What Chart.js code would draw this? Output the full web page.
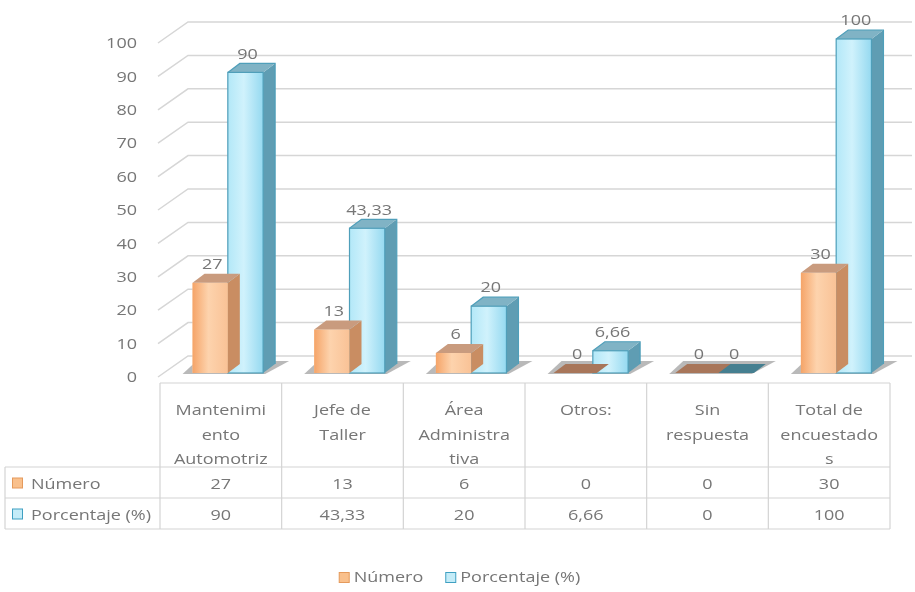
<!DOCTYPE html>
<html>
<head>
<meta charset="utf-8">
<script src="https://cdn.jsdelivr.net/npm/chart.js@4/dist/chart.umd.min.js"></script>
<style>
  html, body { margin: 0; padding: 0; background: #fff; }
  canvas { display: block; }
</style>
</head>
<body>
<canvas id="grafico" width="915" height="592"></canvas>
<script>
// datos
const categorias = [
    ['Mantenimi', 'ento', 'Automotriz'],
    ['Jefe de', 'Taller'],
    ['Área', 'Administra', 'tiva'],
    ['Otros:'],
    ['Sin', 'respuesta'],
    ['Total de', 'encuestado', 's']
];
const numero = [27, 13, 6, 0, 0, 30];
const porcentaje = [90, 43.33, 20, 6.66, 0, 100];
const ejeY = { min: 0, max: 100, paso: 10 };

const FUENTE = '15px "Open Sans", "DejaVu Sans", sans-serif';
const ESTIRA = 1.2;           // el texto del original esta ensanchado
const GRIS = '#767676';
const DX = 12, DY = 9;        // profundidad de las barras
const PX = 30, PY = 21;       // profundidad de las paredes
const DESPLAZ = 7;            // la tabla esta corrida respecto a las barras

const estilos = [
    { frente: ['#f5a468', '#fdd3ad', '#f9c296'], tapa: '#c99b7e', lado: '#c98d62', cero: '#a8765a', borde: null,
      muestra: '#f9c08c', muestraBorde: '#e59a5c' },
    { frente: ['#b3e8f8', '#d0f2fc', '#95d9f0'], tapa: '#80b3c5', lado: '#5f9db3', cero: '#457f90', borde: '#4f9fba',
      muestra: '#c4ecf8', muestraBorde: '#3fa0c2' }
];

function fmt(v) { return String(v).replace('.', ','); }

// texto ensanchado horizontalmente
function texto(ctx, s, x, y) {
    ctx.save();
    ctx.translate(x, y);
    ctx.scale(ESTIRA, 1);
    ctx.fillText(s, 0, 0);
    ctx.restore();
}

const plugin3d = {
    id: 'plugin3d',
    beforeDatasetsDraw(chart) {
        const ctx = chart.ctx;
        const y = chart.scales.y;
        const area = chart.chartArea;
        const izq = area.left - DESPLAZ - 2;
        ctx.save();
        ctx.strokeStyle = '#d6d6d6';
        ctx.lineWidth = 1.5;
        y.ticks.forEach(t => {
            const py = y.getPixelForValue(t.value);
            ctx.beginPath();
            ctx.moveTo(izq, py + 4);
            ctx.lineTo(izq + PX, py + 4 - PY);
            ctx.lineTo(chart.width - 3, py + 4 - PY);
            ctx.stroke();
        });
        // etiquetas del eje
        ctx.fillStyle = GRIS;
        ctx.font = FUENTE;
        ctx.textAlign = 'right';
        ctx.textBaseline = 'middle';
        y.ticks.forEach(t => {
            const py = y.getPixelForValue(t.value);
            texto(ctx, String(t.value), 137, py + 5);
        });
        // sombras en el piso
        const m0 = chart.getDatasetMeta(0).data;
        const m1 = chart.getDatasetMeta(1).data;
        m0.forEach((b0, i) => {
            const b1 = m1[i];
            const L = b0.x - b0.width / 2;
            const R = b1.x + b1.width / 2;
            const base = b0.base;
            ctx.fillStyle = 'rgba(100,100,100,0.45)';
            ctx.beginPath();
            ctx.moveTo(L - 10, base + 1);
            ctx.lineTo(R + 2, base + 1);
            ctx.lineTo(R + 26, base - 12);
            ctx.lineTo(L + 4, base - 12);
            ctx.closePath();
            ctx.fill();
        });
        ctx.restore();
    },
    afterDatasetDraw(chart, args) {
        const ctx = chart.ctx;
        const est = estilos[args.index];
        const meta = chart.getDatasetMeta(args.index);
        ctx.save();
        meta.data.forEach(b => {
            const l = b.x - b.width / 2, r = b.x + b.width / 2;
            const top = b.y, base = b.base;
            if (base - top < 1) {
                ctx.fillStyle = est.cero;
                ctx.beginPath();
                ctx.moveTo(l - 4, base);
                ctx.lineTo(r + 4, base);
                ctx.lineTo(r + DX + 4, base - DY);
                ctx.lineTo(l + DX - 4, base - DY);
                ctx.closePath();
                ctx.fill();
                return;
            }
            const g = ctx.createLinearGradient(l, 0, r, 0);
            g.addColorStop(0, est.frente[0]);
            g.addColorStop(0.45, est.frente[1]);
            g.addColorStop(1, est.frente[2]);
            ctx.fillStyle = g;
            ctx.fillRect(l, top, r - l, base - top);
            // lado
            ctx.fillStyle = est.lado;
            ctx.beginPath();
            ctx.moveTo(r, top);
            ctx.lineTo(r + DX, top - DY);
            ctx.lineTo(r + DX, base - DY);
            ctx.lineTo(r, base);
            ctx.closePath();
            ctx.fill();
            // tapa
            ctx.fillStyle = est.tapa;
            ctx.beginPath();
            ctx.moveTo(l, top);
            ctx.lineTo(r, top);
            ctx.lineTo(r + DX, top - DY);
            ctx.lineTo(l + DX, top - DY);
            ctx.closePath();
            ctx.fill();
            if (est.borde) {
                ctx.strokeStyle = est.borde;
                ctx.lineWidth = 1.2;
                ctx.strokeRect(l, top, r - l, base - top);
                ctx.beginPath();
                ctx.moveTo(l, top);
                ctx.lineTo(l + DX, top - DY);
                ctx.lineTo(r + DX, top - DY);
                ctx.lineTo(r + DX, base - DY);
                ctx.stroke();
            }
        });
        ctx.restore();
    },
    afterDatasetsDraw(chart) {
        const ctx = chart.ctx;
        ctx.save();
        ctx.font = FUENTE;
        ctx.fillStyle = GRIS;
        ctx.textAlign = 'center';
        ctx.textBaseline = 'middle';
        chart.data.datasets.forEach((ds, di) => {
            chart.getDatasetMeta(di).data.forEach((b, i) => {
                texto(ctx, fmt(ds.data[i]), b.x + 2, b.y - DY - 9);
            });
        });

        // tabla de datos
        const x = chart.scales.x;
        const n = chart.data.labels.length;
        const colW = chart.chartArea.width / n;
        const bordes = [];
        for (let i = 0; i <= n; i++) {
            bordes.push(x.getPixelForValue(0) - colW / 2 - DESPLAZ + i * colW);
        }
        const tTop = 383, f1 = 467, f2 = 498, f3 = 529, tIzq = 5;
        const der = bordes[n];
        ctx.strokeStyle = '#d4d4d4';
        ctx.lineWidth = 1.2;
        ctx.beginPath();
        ctx.moveTo(bordes[0], tTop); ctx.lineTo(der, tTop);
        [f1, f2, f3].forEach(fy => { ctx.moveTo(tIzq, fy); ctx.lineTo(der, fy); });
        ctx.moveTo(tIzq, f1); ctx.lineTo(tIzq, f3);
        bordes.forEach(bx => { ctx.moveTo(bx, tTop); ctx.lineTo(bx, f3); });
        ctx.stroke();

        ctx.fillStyle = GRIS;
        chart.data.labels.forEach((lab, i) => {
            const cx = (bordes[i] + bordes[i + 1]) / 2;
            lab.forEach((linea, k) => texto(ctx, linea, cx, tTop + 28 + k * 24.5));
        });
        const filas = [(f1 + f2) / 2 + 2, (f2 + f3) / 2 + 2];
        chart.data.datasets.forEach((ds, di) => {
            const est = estilos[di];
            const fy = filas[di];
            ctx.fillStyle = est.muestra;
            ctx.strokeStyle = est.muestraBorde;
            ctx.lineWidth = 1;
            ctx.fillRect(12.5, fy - 6.5, 10, 10);
            ctx.strokeRect(12.5, fy - 6.5, 10, 10);
            ctx.fillStyle = GRIS;
            ctx.textAlign = 'left';
            texto(ctx, ds.label, 31, fy);
            ctx.textAlign = 'center';
            ds.data.forEach((v, i) => {
                texto(ctx, fmt(v), (bordes[i] + bordes[i + 1]) / 2, fy);
            });
        });

        // leyenda inferior
        const ly = 578;
        const anchos = chart.data.datasets.map(ds => ctx.measureText(ds.label).width * ESTIRA);
        const total = anchos.reduce((a, w) => a + w + 15, 0) + 22;
        let lx = chart.width / 2 - total / 2 + 2;
        chart.data.datasets.forEach((ds, di) => {
            const est = estilos[di];
            ctx.fillStyle = est.muestra;
            ctx.strokeStyle = est.muestraBorde;
            ctx.fillRect(lx + 0.5, ly - 5.5, 10, 10);
            ctx.strokeRect(lx + 0.5, ly - 5.5, 10, 10);
            ctx.fillStyle = GRIS;
            ctx.textAlign = 'left';
            texto(ctx, ds.label, lx + 15, ly);
            lx += 15 + anchos[di] + 22;
        });
        ctx.restore();
    }
};

new Chart(document.getElementById('grafico'), {
    type: 'bar',
    data: {
        labels: categorias,
        datasets: [
            { label: 'Número', data: numero, backgroundColor: estilos[0].frente[1], borderWidth: 0 },
            { label: 'Porcentaje (%)', data: porcentaje, backgroundColor: estilos[1].frente[1], borderWidth: 0 }
        ]
    },
    options: {
        responsive: false,
        animation: false,
        events: [],
        layout: { padding: { left: 167, right: 18, top: 39, bottom: 219 } },
        datasets: { bar: { categoryPercentage: 0.58, barPercentage: 1 } },
        scales: {
            x: { display: false },
            y: { display: false, min: ejeY.min, max: ejeY.max, ticks: { stepSize: ejeY.paso } }
        },
        plugins: { legend: { display: false }, tooltip: { enabled: false } }
    },
    plugins: [plugin3d]
});
</script>
</body>
</html>
